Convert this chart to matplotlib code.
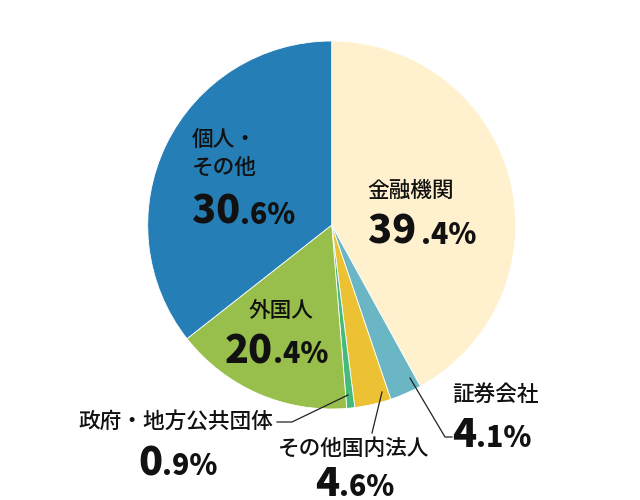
import matplotlib
matplotlib.use("Agg")
import matplotlib.pyplot as plt

plt.rcParams['font.family'] = ['Noto Sans CJK JP', 'DejaVu Sans']

# 円グラフの扇形の大きさ
categories = ["金融機関", "証券会社", "その他国内法人", "政府・地方公共団体", "外国人", "個人・その他"]
shares = [42.0, 2.8, 3.2, 0.7, 15.7, 35.6]
# 表示されている割合
pct_big = ["39", "4", "4", "0", "20", "30"]
pct_small = [".4%", ".1%", ".6%", ".9%", ".4%", ".6%"]
colors = ["#FFF1CD", "#6AB6C4", "#ECC234", "#46BA7B", "#98BF4B", "#257EB5"]

W, H = 640, 500
fig = plt.figure(figsize=(W / 100, H / 100), dpi=100)
ax = fig.add_axes([0, 0, 1, 1])

ax.pie(shares, colors=colors, startangle=90, counterclock=False,
       center=(331.7, H - 225), radius=184, frame=True,
       wedgeprops=dict(edgecolor='white', linewidth=0.6))
ax.set_xlim(0, W)
ax.set_ylim(0, H)
ax.set_aspect('equal')
ax.axis('off')

renderer = fig.canvas.get_renderer()


def put_label(x, yc, s):
    ax.text(x, H - yc, s, fontsize=15.6, fontweight='medium', ha='left', va='center', color='#111111')


def put_pct(x, base, big, small, gap=0):
    t = ax.text(x, H - base, big, fontsize=28.5, fontweight='heavy', ha='left', va='baseline', color='#111111')
    bb = t.get_window_extent(renderer)
    x1 = ax.transData.inverted().transform((bb.x1, 0))[0]
    ax.text(x1 + gap, H - base, small, fontsize=20.5, fontweight='heavy', ha='left', va='baseline', color='#111111')


# ラベル（カテゴリ名）
put_label(192, 140, "個人・")
put_label(192, 168, "その他")
put_label(367, 191, categories[0])
put_label(248, 311, categories[4])
put_label(78, 422, categories[3])
put_label(278, 449, categories[2])
put_label(452, 395, categories[1])

# 割合
put_pct(192, 224, pct_big[5], pct_small[5])
put_pct(368, 244, pct_big[0], pct_small[0], gap=5)
put_pct(225, 363, pct_big[4], pct_small[4])
put_pct(138, 475, pct_big[3], pct_small[3])
put_pct(315, 496, pct_big[2], pct_small[2])
put_pct(452, 447, pct_big[1], pct_small[1])

# 引き出し線
lw = 0.9
ax.plot([277, 292, 348], [H - 422, H - 422, H - 395], color='#222222', lw=lw)
ax.plot([372, 382], [H - 433, H - 392], color='#222222', lw=lw)
ax.plot([410, 445, 452], [H - 378, H - 437, H - 437], color='#222222', lw=lw)

plt.savefig("out.png", dpi=100)
plt.close()
